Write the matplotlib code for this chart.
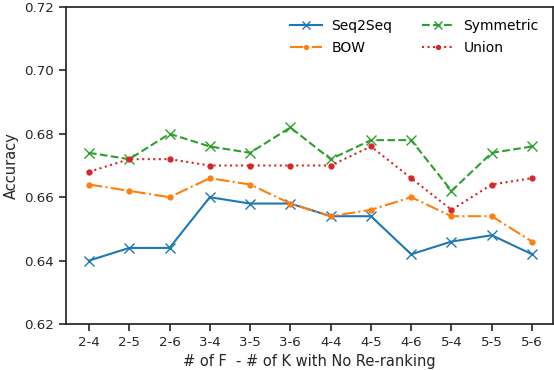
import matplotlib
matplotlib.use("Agg")
import matplotlib.pyplot as plt

categories = ["2-4", "2-5", "2-6", "3-4", "3-5", "3-6", "4-4", "4-5", "4-6", "5-4", "5-5", "5-6"]
seq2seq = [0.640, 0.644, 0.644, 0.660, 0.658, 0.658, 0.654, 0.654, 0.642, 0.646, 0.648, 0.642]
bow = [0.664, 0.662, 0.660, 0.666, 0.664, 0.658, 0.654, 0.656, 0.660, 0.654, 0.654, 0.646]
symmetric = [0.674, 0.672, 0.680, 0.676, 0.674, 0.682, 0.672, 0.678, 0.678, 0.662, 0.674, 0.676]
union = [0.668, 0.672, 0.672, 0.670, 0.670, 0.670, 0.670, 0.676, 0.666, 0.656, 0.664, 0.666]
yticks = [0.62, 0.64, 0.66, 0.68, 0.70, 0.72]

plt.rcParams['font.family'] = ['DejaVu Sans']
fig = plt.figure(figsize=(5.54, 3.70), dpi=100)
ax = fig.add_axes([66/554, 1 - 324/370, (553-66)/554, (324-7)/370])

x = list(range(len(categories)))
ax.plot(x, seq2seq, '-', color='#1f77b4', marker='x', markersize=6.5, lw=1.5, label='Seq2Seq')
ax.plot(x, bow, '-.', color='#ff7f0e', marker='.', markersize=7, lw=1.5, label='BOW')
ax.plot(x, symmetric, '--', color='#2ca02c', marker='x', markersize=6.5, lw=1.5, label='Symmetric')
ax.plot(x, union, ':', color='#d62728', marker='.', markersize=7, lw=1.5, label='Union')

ax.set_xticks(x)
ax.set_xticklabels(categories)
ax.set_xlim(-0.57, 11.52)
ax.set_yticks(yticks)
ax.set_yticklabels([f"{v:.2f}" for v in yticks])
ax.set_ylim(0.62, 0.72)
ax.tick_params(labelsize=9.6, length=5, width=1.2, color='#262626', labelcolor='#262626')
for s in ax.spines.values():
    s.set_color('#262626')
    s.set_linewidth(1.25)
ax.set_xlabel('# of F  - # of K with No Re-ranking', fontsize=10.5, color='#262626')
ax.set_ylabel('Accuracy', fontsize=10.5, color='#262626')
ax.legend(ncol=2, frameon=False, fontsize=10, loc='upper right', bbox_to_anchor=(0.996, 1.003),
          columnspacing=2.1, handlelength=2.3, handletextpad=0.7, labelspacing=0.6, markerscale=0.8)

fig.savefig('out.png', dpi=100)
